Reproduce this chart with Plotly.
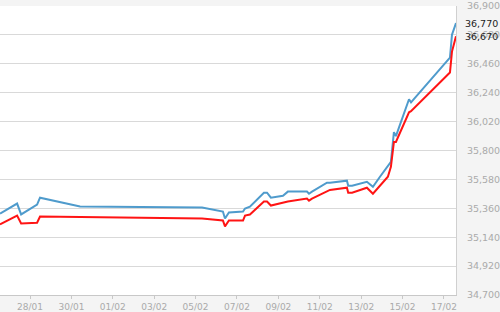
import plotly.graph_objects as go

blue_x = ["2014-01-26 13:10", "2014-01-27 09:00", "2014-01-27 13:40", "2014-01-28 08:10",
          "2014-01-28 11:35", "2014-01-30 10:00", "2014-02-05 07:30", "2014-02-06 07:40",
          "2014-02-06 10:05", "2014-02-06 14:40", "2014-02-07 07:00", "2014-02-07 09:20",
          "2014-02-07 15:00", "2014-02-08 07:15", "2014-02-08 10:50", "2014-02-08 15:20",
          "2014-02-09 05:20", "2014-02-09 11:00", "2014-02-10 09:10", "2014-02-10 11:30",
          "2014-02-10 15:00", "2014-02-11 08:20", "2014-02-11 11:50", "2014-02-12 07:30",
          "2014-02-12 09:00", "2014-02-12 13:30", "2014-02-13 06:40", "2014-02-13 13:40",
          "2014-02-13 21:50", "2014-02-14 07:00", "2014-02-14 10:30", "2014-02-14 14:00",
          "2014-02-14 16:20", "2014-02-15 07:30", "2014-02-15 09:50", "2014-02-17 07:00",
          "2014-02-17 09:20", "2014-02-17 14:00"]
blue_y = [35320, 35396, 35313, 35388, 35441, 35373, 35366, 35335, 35282, 35328, 35335, 35358,
          35373, 35479, 35479, 35441, 35456, 35487, 35487, 35471, 35487, 35555, 35555, 35570,
          35532, 35532, 35562, 35524, 35600, 35676, 35713, 35940, 35910, 36190, 36167, 36507,
          36681, 36770]

red_x = ["2014-01-26 13:10", "2014-01-27 09:00", "2014-01-27 13:40", "2014-01-28 08:10",
         "2014-01-28 11:35", "2014-02-05 07:30", "2014-02-06 07:40", "2014-02-06 10:05",
         "2014-02-06 14:40", "2014-02-07 07:00", "2014-02-07 09:20", "2014-02-07 15:00",
         "2014-02-08 07:15", "2014-02-08 10:50", "2014-02-08 15:20", "2014-02-09 11:00",
         "2014-02-10 09:10", "2014-02-10 11:30", "2014-02-10 15:00", "2014-02-11 08:20",
         "2014-02-11 11:50", "2014-02-12 07:30", "2014-02-12 09:00", "2014-02-12 13:30",
         "2014-02-13 06:40", "2014-02-13 13:40", "2014-02-13 21:50", "2014-02-14 07:00",
         "2014-02-14 10:30", "2014-02-14 14:00", "2014-02-14 16:20", "2014-02-15 07:30",
         "2014-02-15 09:50", "2014-02-17 07:00", "2014-02-17 09:20", "2014-02-17 14:00"]
red_y = [35237, 35305, 35245, 35250, 35297, 35282, 35267, 35222, 35267, 35267, 35305, 35313,
         35411, 35411, 35381, 35411, 35434, 35418, 35434, 35494, 35500, 35517, 35479, 35479,
         35517, 35471, 35532, 35600, 35676, 35865, 35865, 36091, 36099, 36394, 36553, 36670]

y_ticks = [34700, 34920, 35140, 35360, 35580, 35800, 36020, 36240, 36460, 36680, 36900]
y_tick_labels = [f"{v:,}" for v in y_ticks]
last_labels = [("36,770", 36770), ("36,670", 36670)]

FONT = "DejaVu Sans"

fig = go.Figure()
fig.add_trace(go.Scatter(x=blue_x, y=blue_y, mode="lines",
                         line=dict(color="#4f9bcc", width=2), showlegend=False))
fig.add_trace(go.Scatter(x=red_x, y=red_y, mode="lines",
                         line=dict(color="#ff1414", width=2), showlegend=False))

for txt, v in last_labels:
    fig.add_annotation(x=1, xref="paper", y=v, yref="y", text=txt, showarrow=False,
                       xanchor="left", xshift=7, font=dict(family=FONT, size=9.5, color="#222222"))

fig.update_layout(
    width=500, height=312,
    margin=dict(l=0, r=44, t=6, b=15),
    paper_bgcolor="#f4f4f4",
    plot_bgcolor="#ffffff",
    font=dict(family=FONT, size=9, color="#aaaaaa"),
    xaxis=dict(
        type="date",
        range=["2014-01-26 13:10", "2014-02-17 14:00"],
        tick0="2014-01-28", dtick=2 * 86400000, tickformat="%d/%m",
        showgrid=False, showline=True, linecolor="#c8c8c8", linewidth=1,
        ticks="outside", ticklen=3, tickcolor="#c8c8c8",
        tickfont=dict(family=FONT, size=9, color="#aaaaaa"),
        mirror=False, zeroline=False,
    ),
    yaxis=dict(
        side="right", range=[34700, 36900],
        tickvals=y_ticks, ticktext=y_tick_labels,
        showgrid=True, gridcolor="#d9d9d9", gridwidth=1,
        showline=True, linecolor="#d0d0d0", linewidth=1,
        ticks="", ticklabelstandoff=8,
        tickfont=dict(family=FONT, size=9.5, color="#aaaaaa"),
        zeroline=False,
    ),
)

fig.write_html("out.html")
